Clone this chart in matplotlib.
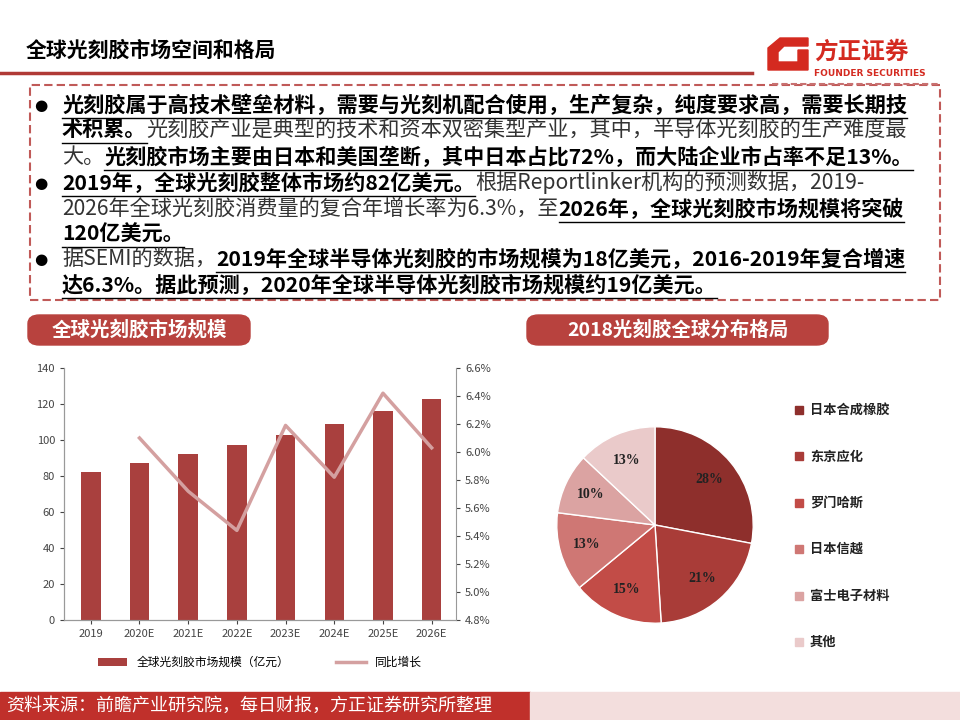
import matplotlib.pyplot as plt
import numpy as np
from matplotlib.patches import Rectangle, FancyBboxPatch, Polygon
from matplotlib.lines import Line2D

plt.rcParams['font.family'] = ['Noto Sans CJK SC', 'DejaVu Sans']

years = ['2019', '2020E', '2021E', '2022E', '2023E', '2024E', '2025E', '2026E']
market = [82, 87, 92, 97, 103, 109, 116, 123]
growth = [None, 6.10, 5.72, 5.44, 6.19, 5.82, 6.42, 6.03]

pie_labels = ['日本合成橡胶', '东京应化', '罗门哈斯', '日本信越', '富士电子材料', '其他']
pie_share = [28, 21, 15, 13, 10, 13]
pie_colors = ['#8E2F2C', '#A93C38', '#C24C47', '#CF7774', '#DBA3A2', '#EACACA']

W, H = 960, 720
fig = plt.figure(figsize=(9.6, 7.2), dpi=100)

def fx(x):
    return x / W

def fy(y):
    return 1 - y / H

# header
fig.text(fx(26), fy(50), '全球光刻胶市场空间和格局', fontsize=15, fontweight='bold', va='center')
fig.add_artist(Line2D([0, fx(752)], [fy(73)] * 2, color='#B03A36', lw=2.5))
fig.add_artist(Line2D([fx(772), fx(940)], [fy(84)] * 2, color='#C87070', lw=1.5, ls=(0, (3, 1.5))))
fig.add_artist(Polygon([[fx(768), fy(70)], [fx(768), fy(48)], [fx(780), fy(38)], [fx(808), fy(38)],
                        [fx(808), fy(46)], [fx(784), fy(46)], [fx(778), fy(52)], [fx(778), fy(62)],
                        [fx(798), fy(62)], [fx(798), fy(50)], [fx(808), fy(50)], [fx(808), fy(70)]],
                       closed=True, color='#D42A20'))
fig.text(fx(814), fy(52), '方正证券', fontsize=17, fontweight='bold', color='#D42A20', va='center')
fig.text(fx(814), fy(73), 'FOUNDER SECURITIES', fontsize=6.5, fontweight='bold', color='#D42A20', va='center',
         family=['DejaVu Sans'])

# text box
fig.add_artist(Rectangle((fx(30), fy(300)), fx(910), 215 / H, fill=False, ec='#C05A58', lw=1.5, ls=(0, (4, 2))))

lines = [
    (105, True, [('光刻胶属于高技术壁垒材料，需要与光刻机配合使用，生产复杂，纯度要求高，需要长期技', 1)]),
    (130, False, [('术积累。', 1), ('光刻胶产业是典型的技术和资本双密集型产业，其中，半导体光刻胶的生产难度最', 0)]),
    (157, False, [('大。', 0), ('光刻胶市场主要由日本和美国垄断，其中日本占比72%，而大陆企业市占率不足13%。', 1)]),
    (183, True, [('2019年，全球光刻胶整体市场约82亿美元。', 1), ('根据Reportlinker机构的预测数据，2019-', 0)]),
    (209, False, [('2026年全球光刻胶消费量的复合年增长率为6.3%，至', 0), ('2026年，全球光刻胶市场规模将突破', 1)]),
    (234, False, [('120亿美元。', 1)]),
    (259, True, [('据SEMI的数据，', 0), ('2019年全球半导体光刻胶的市场规模为18亿美元，2016-2019年复合增速', 1)]),
    (285, False, [('达6.3%。据此预测，2020年全球半导体光刻胶市场规模约19亿美元。', 1)]),
]
renderer = fig.canvas.get_renderer()
for y, bullet, segs in lines:
    if bullet:
        fig.text(fx(34), fy(y), '●', fontsize=11, va='center', family=['DejaVu Sans'])
    x = 62
    for s, bold in segs:
        t = fig.text(fx(x), fy(y), s, fontsize=15.2, va='center',
                     fontweight='bold' if bold else 'normal', color='black' if bold else '#333333')
        bb = t.get_window_extent(renderer)
        if bold:
            fig.add_artist(Line2D([fx(x), fx(x + bb.width)], [fy(y + 13)] * 2, color='black', lw=1))
        x += bb.width

# section labels
for x0, x1, label in [(28, 250, '全球光刻胶市场规模'), (527, 828, '2018光刻胶全球分布格局')]:
    fig.add_artist(FancyBboxPatch((fx(x0), fy(345)), fx(x1 - x0), 30 / H,
                                  boxstyle='round,pad=0,rounding_size=0.012', color='#B8423E'))
    fig.text(fx((x0 + x1) / 2), fy(330), label, fontsize=14, fontweight='bold', color='white',
             ha='center', va='center')

# bar chart
ax = fig.add_axes([fx(64), fy(620), fx(392), 252 / H])
xs = range(len(years))
ax.bar(xs, market, width=0.4, color='#A9403E', label='全球光刻胶市场规模（亿元）')
ax.set_ylim(0, 140)
ax.set_yticks(range(0, 141, 20))
ax.set_xticks(list(xs))
ax.set_xticklabels(years)
ax.set_xlim(-0.55, 7.5)
ax2 = ax.twinx()
ax2.plot(list(xs)[1:], growth[1:], color='#D4A0A0', lw=2.5, label='同比增长')
ax2.set_ylim(4.8, 6.6)
ax2.set_yticks([4.8 + 0.2 * i for i in range(10)])
ax2.set_yticklabels([f'{4.8 + 0.2 * i:.1f}%' for i in range(10)])
for a in (ax, ax2):
    a.spines['top'].set_visible(False)
    for sp in a.spines.values():
        sp.set_color('#999999')
    a.tick_params(labelsize=8, colors='#444444', length=3)
ax.spines['right'].set_visible(False)
h1, l1 = ax.get_legend_handles_labels()
h2, l2 = ax2.get_legend_handles_labels()
ax.legend(h1 + h2, l1 + l2, loc='upper center', bbox_to_anchor=(0.5, -0.1), ncol=2, frameon=False,
          fontsize=8.5, handlelength=2.5, columnspacing=4)

# pie chart
pax = fig.add_axes([fx(545), fy(635), fx(220), 220 / H])
wedges, texts = pax.pie(pie_share, colors=pie_colors, startangle=90, counterclock=False, radius=1.0,
                        wedgeprops=dict(ec='white', lw=1))
for w, v in zip(wedges, pie_share):
    mid = np.deg2rad((w.theta1 + w.theta2) / 2)
    pax.text(0.72 * np.cos(mid), 0.72 * np.sin(mid), f'{v}%', ha='center', va='center',
             fontsize=10, fontweight='bold', family=['Liberation Serif'], color='#222222')
pax.set_xlim(-1.12, 1.12)
pax.set_ylim(-1.12, 1.12)
pax.set_aspect('equal')

for i, (lab, c) in enumerate(zip(pie_labels, pie_colors)):
    y = 410 + i * 46.4
    fig.add_artist(Rectangle((fx(795), fy(y + 4)), fx(8), 8 / H, color=c))
    fig.text(fx(810), fy(y), lab, fontsize=9.5, fontweight='bold', va='center', color='#222222')

# footer
fig.add_artist(Rectangle((0, 0), fx(530), 28 / H, color='#C0302B'))
fig.add_artist(Rectangle((fx(530), 0), fx(430), 28 / H, color='#F3DEDD'))
fig.text(fx(6), fy(706), '资料来源：前瞻产业研究院，每日财报，方正证券研究所整理', fontsize=13,
         color='white', va='center')

fig.savefig('out.png', dpi=100)
